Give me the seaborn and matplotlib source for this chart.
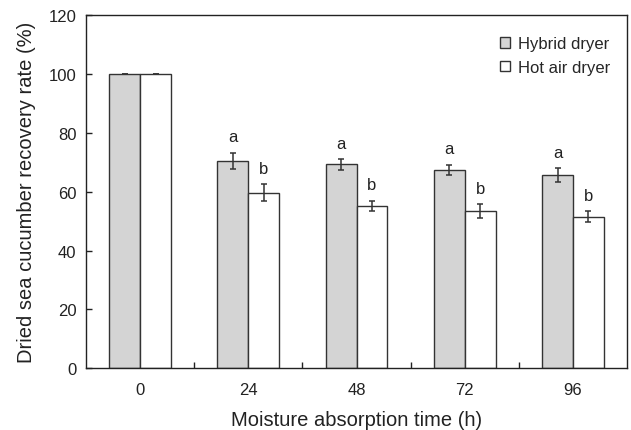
import numpy as np
import pandas as pd
import matplotlib
matplotlib.use("Agg")
import matplotlib.pyplot as plt
import seaborn as sns

# data
times = ["0", "24", "48", "72", "96"]
hybrid = [100.0, 70.4, 69.2, 67.3, 65.6]
hybrid_err = [0.0, 2.8, 1.8, 1.8, 2.4]
hot_air = [100.0, 59.6, 55.2, 53.4, 51.5]
hot_air_err = [0.0, 2.9, 1.7, 2.4, 1.8]
hybrid_letters = ["", "a", "a", "a", "a"]
hot_air_letters = ["", "b", "b", "b", "b"]
dryers = ["Hybrid dryer", "Hot air dryer"]

sns.set_style("ticks")
plt.rcParams['font.family'] = ['Liberation Sans', 'DejaVu Sans']

df = pd.DataFrame({
    'time': times * 2,
    'rate': hybrid + hot_air,
    'dryer': [dryers[0]] * len(times) + [dryers[1]] * len(times),
})

fig = plt.figure(figsize=(6.31, 4.31), dpi=100)
ax = fig.add_axes([0.1363, 0.1427, 0.8574, 0.8213])

sns.barplot(data=df, x='time', y='rate', hue='dryer', order=times, hue_order=dryers,
            palette=['#d4d4d4', '#ffffff'], edgecolor='#333333', linewidth=1.0,
            width=0.57, errorbar=None, ax=ax)

# error bars and letters on top of the bars seaborn drew
for cont, errs, letters in zip(ax.containers, [hybrid_err, hot_air_err],
                               [hybrid_letters, hot_air_letters]):
    xs = [p.get_x() + p.get_width() / 2 for p in cont.patches]
    ys = [p.get_height() for p in cont.patches]
    ax.errorbar(xs, ys, yerr=errs, fmt='none', ecolor='#333333',
                elinewidth=1.1, capsize=2.5, capthick=1.1)
    for x, y, e, t in zip(xs, ys, errs, letters):
        if t:
            ax.annotate(t, (x, y + e), xytext=(0, 6), textcoords='offset points',
                        ha='center', va='bottom', fontsize=12, color='#222222')

ax.set_ylim(0, 120)
ax.set_yticks(np.arange(0, 121, 20))
ax.set_xlim(-0.5, 4.5)
ax.set_xticks(np.arange(0.5, 4.0, 1.0), minor=True)

for s in ax.spines.values():
    s.set_visible(True)
    s.set_color('#222222')
    s.set_linewidth(1.0)

ax.tick_params(axis='y', direction='in', length=4, width=1, pad=7,
               labelsize=12, colors='#222222')
ax.tick_params(axis='x', which='major', length=0, pad=10, labelsize=12,
               colors='#222222')
ax.tick_params(axis='x', which='minor', direction='in', length=4, width=1,
               colors='#222222')

ax.set_xlabel("Moisture absorption time (h)", fontsize=14.5, labelpad=9,
              color='#222222')
ax.set_ylabel("Dried sea cucumber recovery rate (%)", fontsize=14.5, labelpad=9,
              color='#222222')

ax.legend(loc='upper right', frameon=False, fontsize=12, handlelength=0.6,
          handleheight=0.6, handletextpad=0.5, labelspacing=0.5,
          borderaxespad=0.6, bbox_to_anchor=(1.0, 0.985))

fig.savefig("out.png", dpi=100)
